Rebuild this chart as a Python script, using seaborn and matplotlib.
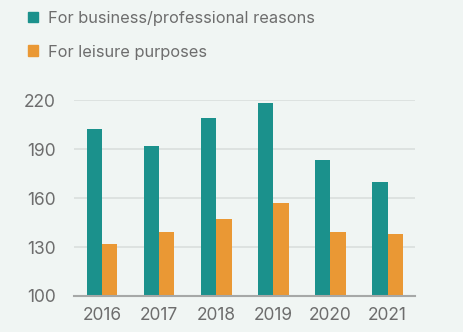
import matplotlib
matplotlib.use("Agg")
import matplotlib.pyplot as plt
import matplotlib.patches as mpatches
import seaborn as sns
import pandas as pd

years = ["2016", "2017", "2018", "2019", "2020", "2021"]
business = [202, 192, 209, 218, 183, 170]
leisure = [132, 139, 147, 157, 139, 138]
series_names = ["For business/professional reasons", "For leisure purposes"]
y_ticks = [100, 130, 160, 190, 220]

bg = "#f0f5f3"
teal = "#1b918c"
orange = "#ea9834"
text_grey = "#6d6d6d"

sns.set_theme(style="white")
plt.rcParams["font.family"] = ["Inter", "DejaVu Sans"]

df = pd.DataFrame({
    "year": years * 2,
    "value": business + leisure,
    "series": [series_names[0]] * len(years) + [series_names[1]] * len(years),
})

fig = plt.figure(figsize=(4.63, 3.32), dpi=100, facecolor=bg)
ax = fig.add_axes([74 / 463, 1 - 296 / 332, (415 - 74) / 463, 196 / 332])
ax.set_facecolor(bg)

sns.barplot(data=df, x="year", y="value", hue="series",
            palette=[teal, orange], width=0.536, gap=0,
            saturation=1, legend=False, linewidth=0, ax=ax)

ax.set_ylim(100, 220)
ax.set_xlim(-0.49, 5.48)
ax.set_yticks(y_ticks)
ax.grid(axis="y", color="#dadfdd", linewidth=1.2)
ax.set_axisbelow(True)
for s in ["top", "right", "left"]:
    ax.spines[s].set_visible(False)
ax.spines["bottom"].set_color("#a6a8a7")
ax.spines["bottom"].set_linewidth(1.5)
ax.set_xlabel("")
ax.set_ylabel("")
ax.tick_params(axis="y", length=0, pad=13, labelsize=12.5, labelcolor=text_grey)
ax.tick_params(axis="x", length=0, pad=8, labelsize=12.5, labelcolor=text_grey)

handles = [mpatches.Patch(color=teal, label=series_names[0]),
           mpatches.Patch(color=orange, label=series_names[1])]
leg = fig.legend(handles=handles, loc="upper left",
                 bbox_to_anchor=(13 / 463, 1 + 4 / 332),
                 frameon=False, fontsize=11.8, labelcolor=text_grey,
                 handlelength=0.65, handleheight=0.65, handletextpad=0.6,
                 labelspacing=1.15)

fig.savefig("out.png", dpi=100, facecolor=bg)
